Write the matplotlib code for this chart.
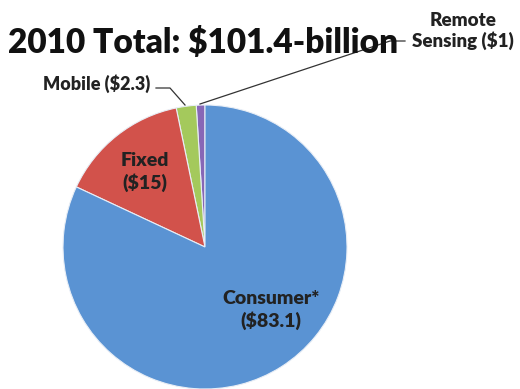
import matplotlib.pyplot as plt

# 2010 market split, billions of dollars
segments = ["Remote\nSensing ($1)", "Mobile ($2.3)", "Fixed\n($15)", "Consumer*\n($83.1)"]
values = [1.0, 2.3, 15.0, 83.1]
colors = ["#8767B6", "#A4C95C", "#D2524B", "#5A93D3"]
title = "2010 Total: $101.4-billion"

W, H = 520, 389
fig = plt.figure(figsize=(W / 100, H / 100), dpi=100)
ax = fig.add_axes([0, 0, 1, 1])
font = ["Lato", "DejaVu Sans"]

# pie laid out in pixel units (y measured upward)
cx, cy, r = 205, H - 247, 142
wedges, _ = ax.pie(values, colors=colors, startangle=90, counterclock=True,
                   center=(cx, cy), radius=r,
                   wedgeprops=dict(edgecolor="#E8EEF6", linewidth=0.8))
ax.set_xlim(0, W)
ax.set_ylim(0, H)
ax.set_aspect("equal")
ax.axis("off")

ax.text(8, H - 53, title, fontsize=24, fontweight="heavy", family=font,
        ha="left", va="baseline", color="#111111")

# labels inside the big slices
ax.text(145, H - 172, segments[2], fontsize=14, fontweight="heavy", family=font,
        ha="center", va="center", linespacing=1.25, color="#222222")
ax.text(271, H - 310, segments[3], fontsize=14, fontweight="heavy", family=font,
        ha="center", va="center", linespacing=1.25, color="#222222")

# callouts for the thin slices
ax.text(150, H - 84, segments[1], fontsize=13, fontweight="heavy", family=font,
        ha="right", va="center", color="#222222")
ax.plot([156, 170, 185], [H - 88, H - 88, H - 105], color="#333333", lw=0.9)

ax.text(463, H - 31, segments[0], fontsize=13.5, fontweight="heavy", family=font,
        ha="center", va="center", linespacing=1.2, color="#222222")
ax.plot([405, 390, 200], [H - 41, H - 41, H - 104], color="#333333", lw=0.9)

fig.savefig("out.png", dpi=100, facecolor="white")
